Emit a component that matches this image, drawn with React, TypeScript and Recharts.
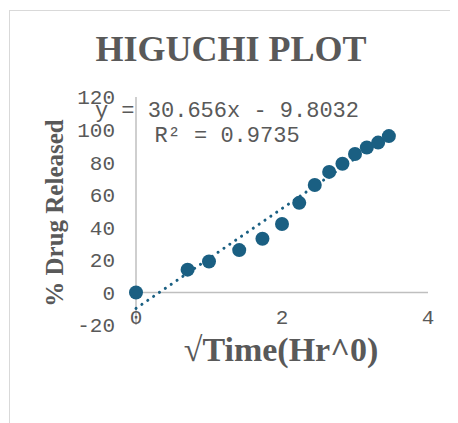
import { ScatterChart, Scatter, XAxis, YAxis, ReferenceLine } from "recharts"

// √time (hr^0.5) against cumulative % drug released
let sqrtTime = [0, 0.707, 1, 1.414, 1.732, 2, 2.236, 2.449, 2.646, 2.828, 3, 3.162, 3.317, 3.464]
let released = [0, 14, 19, 26, 33, 42, 55, 66, 74, 79, 85, 89, 92, 96]
let xTicks = [0, 2, 4]
let yTicks = [-20, 0, 20, 40, 60, 80, 100, 120]

// linear trendline as reported in the chart
let slope = 30.656
let intercept = -9.8032
let rSquared = "0.9735"

let dotColor = "#1a5f82"
let textGray = "#595959"
let axisGray = "#bfbfbf"
let mono = "'Liberation Mono', 'DejaVu Sans Mono', monospace"
let serif = "'Liberation Serif', 'Times New Roman', serif"

let points = sqrtTime.map((x, i) => ({ x, y: released[i] }))
let xMax = Math.max(...sqrtTime)
let trend = [
  { x: 0, y: intercept },
  { x: xMax, y: slope * xMax + intercept },
]

let Dot = (p: any) => <circle cx={p.cx} cy={p.cy} r={7} fill={dotColor} />

export default function App() {
  return (
    <div style={{ position: "relative", width: 450, height: 415 }}>
      <div
        style={{
          position: "absolute",
          left: 1,
          top: 2,
          width: 460,
          height: 430,
          borderLeft: "1px solid #d9d9d9",
          borderTop: "1px solid #d9d9d9",
        }}
      />
      <ScatterChart width={450} height={415} margin={{ top: 89, right: 30, bottom: 68, left: 0 }}>
        <XAxis
          type="number"
          dataKey="x"
          domain={[0, 4]}
          ticks={xTicks}
          axisLine={false}
          tickLine={false}
          tickSize={0}
          tickMargin={-16}
          height={30}
          tick={{ fill: textGray, fontSize: 21, fontFamily: mono }}
        />
        <YAxis
          type="number"
          dataKey="y"
          domain={[-20, 120]}
          ticks={yTicks}
          width={128}
          axisLine={{ stroke: axisGray, strokeWidth: 1.5 }}
          tickLine={false}
          tickSize={0}
          tickMargin={21}
          tick={{ fill: textGray, fontSize: 21, fontFamily: mono }}
        />
        <ReferenceLine y={0} stroke={axisGray} strokeWidth={1.5} />
        <Scatter
          data={trend}
          line={{ stroke: dotColor, strokeWidth: 3, strokeDasharray: "0.1 7", strokeLinecap: "round" }}
          shape={() => <g />}
          isAnimationActive={false}
        />
        <Scatter data={points} shape={Dot} isAnimationActive={false} />
      </ScatterChart>
      <svg
        width={450}
        height={415}
        style={{ position: "absolute", left: 0, top: 0, pointerEvents: "none" }}
      >
        <text x={223} y={53} textAnchor="middle" fill={textGray} fontFamily={serif} fontWeight="bold" fontSize={36}>
          HIGUCHI PLOT
        </text>
        <text x={219} y={109} textAnchor="middle" fill={textGray} fontFamily={mono} fontSize={22}>
          {`y = ${slope}x - ${Math.abs(intercept)}`}
        </text>
        <text x={219} y={134} textAnchor="middle" fill={textGray} fontFamily={mono} fontSize={22}>
          {`R² = ${rSquared}`}
        </text>
        <text
          transform="translate(55,205) rotate(-90)"
          textAnchor="middle"
          fill={textGray}
          fontFamily={serif}
          fontWeight="bold"
          fontSize={25}
        >
          % Drug Released
        </text>
        <text x={273} y={353} textAnchor="middle" fill={textGray} fontFamily={serif} fontWeight="bold" fontSize={34}>
          √Time(Hr^0)
        </text>
      </svg>
    </div>
  )
}
